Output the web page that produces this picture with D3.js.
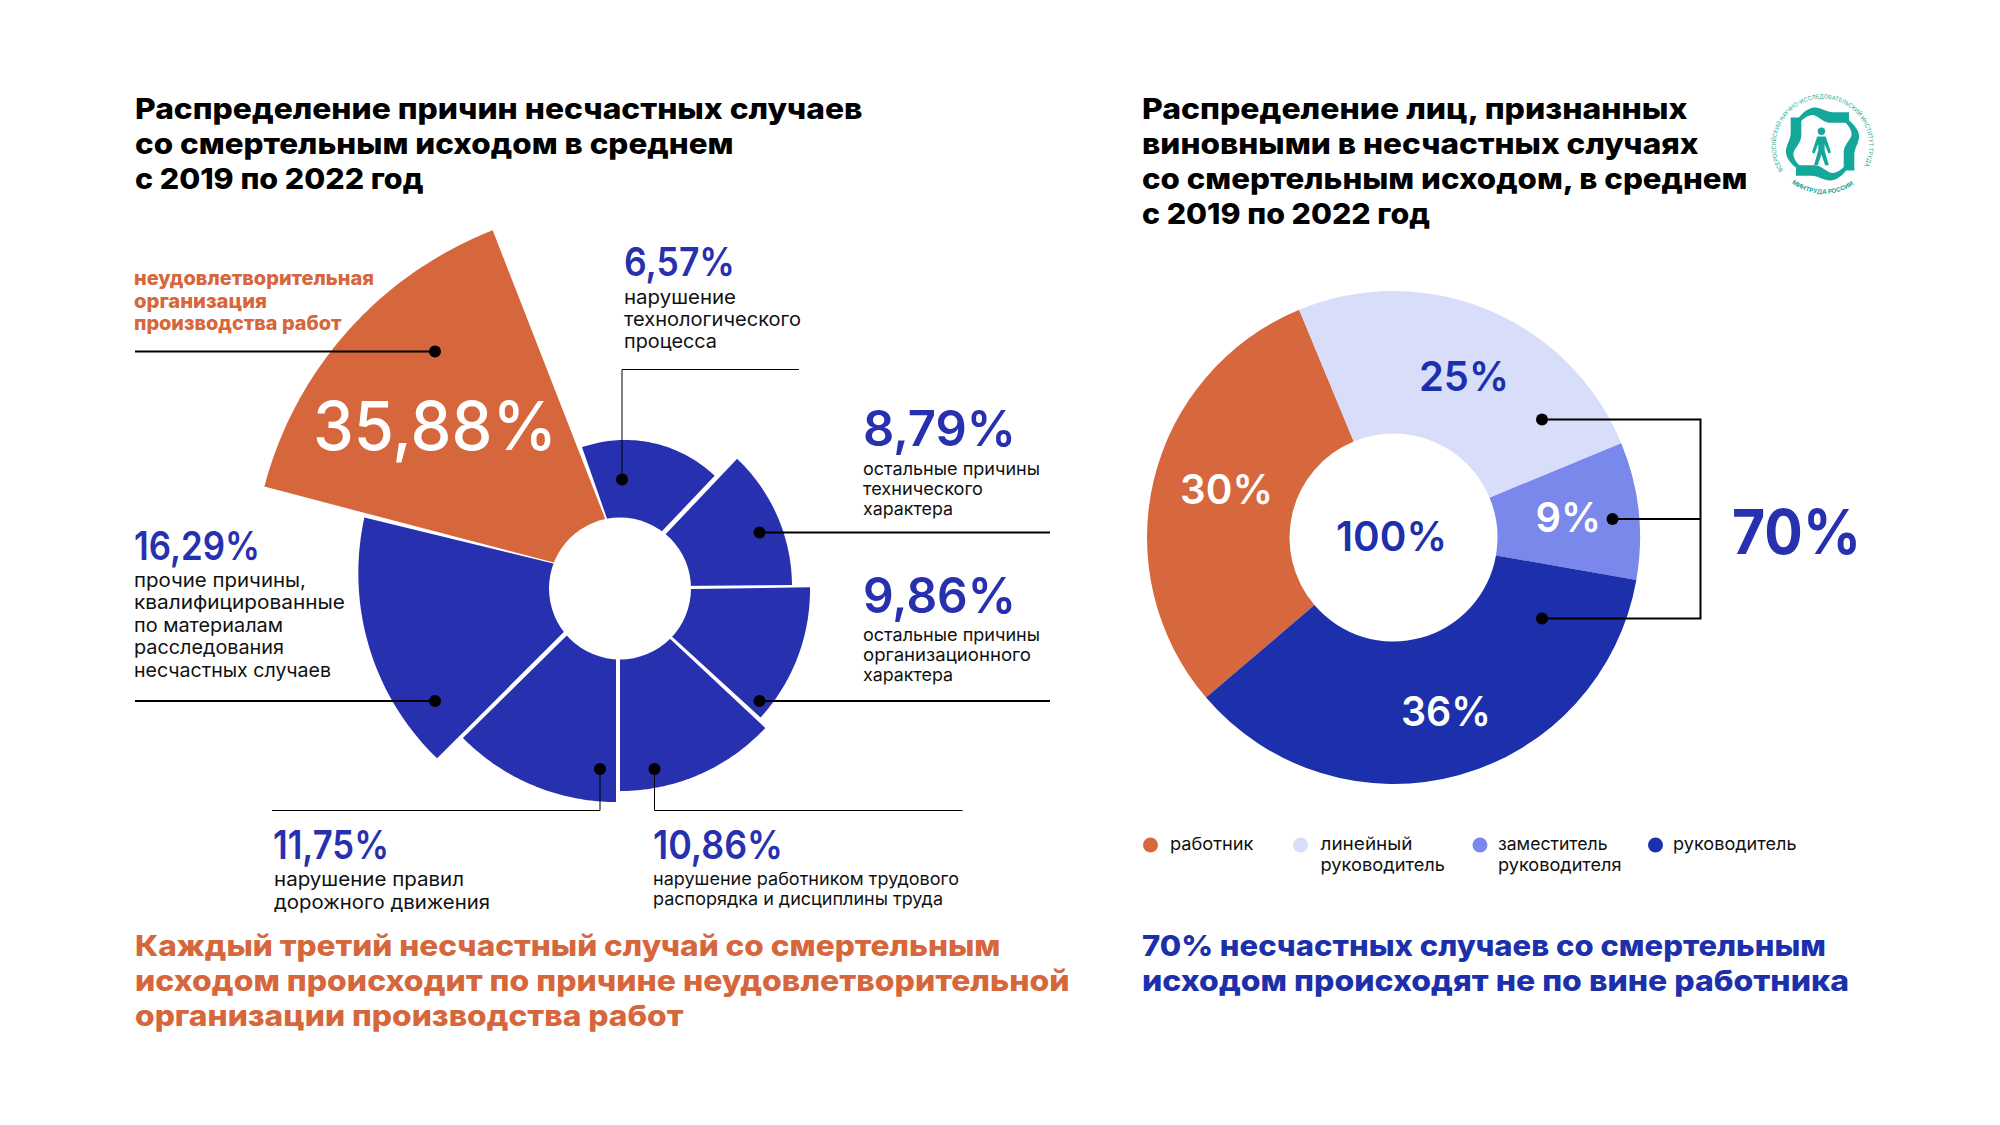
<!DOCTYPE html>
<html lang="ru"><head><meta charset="utf-8">
<script src="https://cdnjs.cloudflare.com/ajax/libs/d3/7.8.5/d3.min.js"></script>
<style>html,body{margin:0;padding:0;background:#fff}svg{display:block}text{font-family:Inter,"Noto Sans",sans-serif}</style>
</head><body><svg id="c" width="2000" height="1125" viewBox="0 0 2000 1125"></svg>
<script>
// ---------- data ----------
const causeNames = ["неудовлетворительная организация производства работ","нарушение технологического процесса","остальные причины технического характера","остальные причины организационного характера","нарушение работником трудового распорядка и дисциплины труда","нарушение правил дорожного движения","прочие причины, квалифицированные по материалам расследования несчастных случаев"];
const causeValues = [35.88, 6.57, 8.79, 9.86, 10.86, 11.75, 16.29];
const personNames = ["работник","линейный руководитель","заместитель руководителя","руководитель"];
const personValues = [30, 25, 9, 36];
const personSum = 70, personTotal = 100;

// ---------- layout ----------
const ORANGE="#D6663C", BLUE="#2730AF", DARK="#1C30AC";
const personColors=["#D7673C","#D8DDF9","#7A87EB","#1C30AC"];
const svg=d3.select("#c");
const rad=d3.scaleLinear().domain([0,360]).range([0,2*Math.PI]);
// radial scale of the rose chart
const rScale=d3.scaleLinear().domain([6.57,8.79,9.86,10.86,11.75,16.29,35.88]).range([130,176,189,199,215,257,378]);
const sliceAngles=[[-75.3,-21.3],[-19.3,43.6],[43.5,89.5],[89.2,132.4],[133.1,180],[180,225.4],[225.1,283.7]];
const sliceApex=[[630,582.5],[625,570],[616,586.5],[621,590],[620,592],[616,587],[617,579]];
const sliceTilt=[0,0,0,0,0,0,6];
const hole={x:620,y:588.5,r:71};
// each sector: apex, then the rim sampled across its angle; the rim radius comes from the value
const radial=d3.lineRadial().angle(p=>p[0]).radius(p=>p[1]);
svg.append("g").selectAll("path").data(causeValues).join("path")
  .attr("transform",(d,i)=>`translate(${sliceApex[i]})`)
  .attr("fill",(d,i)=>i===0?ORANGE:BLUE)
  .attr("d",(d,i)=>{
    const [a0,a1]=sliceAngles[i], r=rScale(d), t=sliceTilt[i];
    const rim=d3.range(0,1.0001,1/48).map(u=>[rad(a0+(a1-a0)*u), r+t*(u-0.5)]);
    return radial([[0,0],...rim])+"Z";
  });
svg.append("circle").attr("cx",hole.x).attr("cy",hole.y).attr("r",hole.r).attr("fill","#fff");

// donut
const dc={x:1393.5,y:537.5,r0:104,r1:246.5};
const pie=d3.pie().sort(null).startAngle(rad(-130.5)).endAngle(rad(229.5));
const darc=d3.arc().innerRadius(dc.r0).outerRadius(dc.r1);
svg.append("g").attr("transform",`translate(${dc.x},${dc.y})`).selectAll("path").data(pie(personValues)).join("path")
  .attr("d",darc).attr("fill",(d,i)=>personColors[i]);

// text helper: x, baseline, right edge, size, weight, colour
function T(s,x,y,right,size,weight,color){
  svg.append("text").attr("x",x).attr("y",y).attr("font-size",size).attr("font-weight",weight).attr("fill",color)
    .attr("textLength",right-x).attr("lengthAdjust","spacingAndGlyphs").text(s);
}
const pct=v=>v.toFixed(2).replace(".",",")+"%";
const BK="#111", NW=600;

// titles
[["Распределение причин несчастных случаев",862.5,119],["со смертельным исходом в среднем",733.5,154],["с 2019 по 2022 год",423.5,189]]
  .forEach(a=>T(a[0],135,a[2],a[1],29,800,"#000"));
[["Распределение лиц, признанных",1687.5,119],["виновными в несчастных случаях",1698.5,154],["со смертельным исходом, в среднем",1747.5,189],["с 2019 по 2022 год",1430,224]]
  .forEach(a=>T(a[0],1142,a[2],a[1],29,800,"#000"));

// rose labels
T("неудовлетворительная",134,285,374,20,800,ORANGE);
T("организация",134,307.5,267,20,800,ORANGE);
T("производства работ",134,330,341.5,20,800,ORANGE);
T(pct(causeValues[0]),313,449.5,557,68,500,"#fff");

T(pct(causeValues[1]),624,275.5,735,39,NW,BLUE);
T("нарушение",624,304,736,19,400,BK);
T("технологического",624,326,801,19,400,BK);
T("процесса",624,348,717,19,400,BK);

T(pct(causeValues[2]),863,445.5,1016,49,NW,BLUE);
T("остальные причины",863,475,1040,17.5,400,BK);
T("технического",863,495,983,17.5,400,BK);
T("характера",863,515,953,17.5,400,BK);

T(pct(causeValues[3]),863,613,1016,49,NW,BLUE);
T("остальные причины",863,641,1040,17.5,400,BK);
T("организационного",863,661,1031,17.5,400,BK);
T("характера",863,681,953,17.5,400,BK);

T(pct(causeValues[6]),134,560,260,39,NW,BLUE);
[["прочие причины,",306,587],["квалифицированные",345,609],["по материалам",283,632],["расследования",284,654],["несчастных случаев",331,677]]
  .forEach(a=>T(a[0],134,a[2],a[1],19,400,BK));

T(pct(causeValues[5]),273,859,389,40,NW,BLUE);
T("нарушение правил",274,886,464,19,400,BK);
T("дорожного движения",274,909,490,19,400,BK);

T(pct(causeValues[4]),653,859,783,40,NW,BLUE);
T("нарушение работником трудового",653,885,959,17.5,400,BK);
T("распорядка и дисциплины труда",653,904.5,943,17.5,400,BK);

// leader lines
function L(pts,w){svg.append("path").attr("d",d3.line()(pts)).attr("fill","none").attr("stroke","#000").attr("stroke-width",w);}
function D(x,y,r=6){svg.append("circle").attr("cx",x).attr("cy",y).attr("r",r).attr("fill","#000");}
L([[135,351.5],[435,351.5]],2);D(435,351.5);
L([[622,479.5],[622,369.5],[799,369.5]],1);D(622,479.5);
L([[759.5,532.5],[1050,532.5]],2);D(759.5,532.5);
L([[759.5,701],[1050,701]],2);D(759.5,701);
L([[135,701],[435,701]],2);D(435,701);
L([[600,769],[600,810.5],[272,810.5]],1);D(600,769);
L([[654.5,769],[654.5,810.5],[962.5,810.5]],1);D(654.5,769);

// donut labels
T(personValues[1]+"%",1419,391,1509,41,NW,DARK);
T(personValues[0]+"%",1180,503.5,1273,41,NW,"#fff");
T(personTotal+"%",1336,550.5,1447,41,NW,DARK);
T(personValues[2]+"%",1535.5,532,1601,41,NW,"#fff");
T(personValues[3]+"%",1401,726,1491,41,NW,"#fff");
T(personSum+"%",1732,554,1861,62,700,BLUE);
L([[1542,419.5],[1700.5,419.5],[1700.5,618.5],[1542,618.5]],2);
L([[1612.5,519],[1700.5,519]],2);
D(1542,419.5);D(1612.5,519);D(1542,618.5);

// legend
const lg=[1150.5,1300.5,1480,1655.5];
lg.forEach((x,i)=>svg.append("circle").attr("cx",x).attr("cy",845).attr("r",7.5).attr("fill",personColors[i]));
T("работник",1170,850,1253.5,17.5,400,BK);
T("линейный",1320.5,850,1412.5,17.5,400,BK);
T("руководитель",1320.5,871,1445,17.5,400,BK);
T("заместитель",1498,850,1607.5,17.5,400,BK);
T("руководителя",1498,871,1621.5,17.5,400,BK);
T("руководитель",1673,850,1796.5,17.5,400,BK);

// bottom notes
T("Каждый третий несчастный случай со смертельным",135,956,1000.5,29,800,ORANGE);
T("исходом происходит по причине неудовлетворительной",135,991,1069.5,29,800,ORANGE);
T("организации производства работ",135,1026,683.5,29,800,ORANGE);
T("70% несчастных случаев со смертельным",1142,956,1826,29,800,DARK);
T("исходом происходят не по вине работника",1142,991,1849,29,800,DARK);

// logo
const TEAL="#14A89A";
const logo=svg.append("g").attr("transform","translate(1822.5,144) scale(1.06)");
const hand="M25,-20 L25,-30 L10,-30 C4,-30 -2,-35 -8,-34.5 C-14,-34 -21,-28 -25,-21 L-21,-21 C-16,-26 -11,-28.5 -7,-27 C-3,-25 2,-20 8,-20 Z";
[0,90,180,270].forEach(a=>logo.append("path").attr("d",hand).attr("fill",TEAL).attr("transform",`rotate(${a})`));
logo.append("circle").attr("cx",-1).attr("cy",-12).attr("r",3.5).attr("fill",TEAL);
logo.append("path").attr("fill",TEAL).attr("transform","translate(-1,2)").attr("d","M-4,-9 L4,-9 L9,6 L6.5,7 L3,-2 L3,4 L7,18 L3.5,18 L0,8 L-3.5,18 L-7,18 L-3,4 L-3,-2 L-6.5,7 L-9,6 Z");
const defs=svg.append("defs");
defs.append("path").attr("id","ringT").attr("d","M-37,25 A44,44 0 1 1 37,25");
defs.append("path").attr("id","ringB").attr("d","M-29,37 A50,50 0 0 0 31,37");
logo.append("text").attr("font-size",5.6).attr("fill",TEAL).append("textPath").attr("href","#ringT").attr("textLength",183).attr("lengthAdjust","spacingAndGlyphs")
  .text("ВСЕРОССИЙСКИЙ НАУЧНО-ИССЛЕДОВАТЕЛЬСКИЙ ИНСТИТУТ ТРУДА");
logo.append("text").attr("font-size",5.8).attr("font-weight",700).attr("fill",TEAL).append("textPath").attr("href","#ringB").attr("textLength",62).attr("lengthAdjust","spacingAndGlyphs")
  .text("МИНТРУДА РОССИИ");
</script></body></html>
